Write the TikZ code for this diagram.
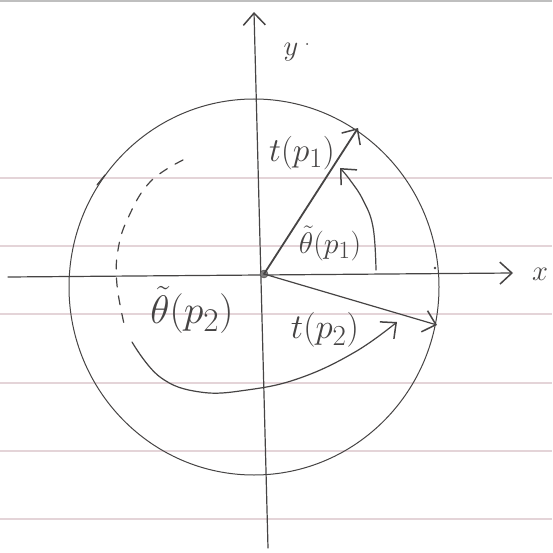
\documentclass[tikz,border=0pt]{standalone}
\usetikzlibrary{arrows.meta}
\definecolor{pencil}{RGB}{70,68,68}
\definecolor{ruling}{RGB}{228,212,216}
\newcommand\handtext[2]{\scalebox{#1}{#2}}
\tikzset{
  pen/.style={draw=pencil, line width=1.2pt, line cap=round, line join=round},
  thickpen/.style={draw=pencil, line width=1.8pt, line cap=round, line join=round},
  barb/.style={-{Straight Barb[length=12pt,width=22pt,line width=1.5pt]}},
  rule/.style={draw=ruling, line width=1.1pt},
  lbl/.style={text=pencil, inner sep=0pt, font=\Huge},
  ax/.style={text=pencil, inner sep=0pt, font=\Huge}
}
\begin{document}
\begin{tikzpicture}[x=1pt,y=-1pt]
\useasboundingbox (0,0) rectangle (552,553);
\fill[white] (0,0) rectangle (552,553);
% ruled paper
\foreach \yy in {178,246,314,383,451,519} \draw[rule] (0,\yy) -- (552,\yy);
\draw[draw=gray!50, line width=1.5pt] (0,1) -- (552,1);
% key points
\coordinate (xl) at (8,277);
\coordinate (xr) at (513,273);
\coordinate (yb) at (268,548);
\coordinate (yt) at (254,12);
\coordinate (t1) at (358,128);
\coordinate (t2) at (437,325);
\coordinate (C) at (254,287);
% axes
\draw[pen, barb] (xl) -- (xr);
\draw[pen, barb] (yb) -- (yt);
\node[ax] (xlab) at (540,274) {\handtext{1.15}{$x$}};
\node[ax] (ylab) at (291,52) {\handtext{1.15}{$y$}};
\fill[pencil] (307,44) circle (1pt);
% circle
\draw[pen, line width=1pt] (C) ellipse [x radius=185, y radius=188];
\draw[pen] (105,175) -- (97,185);
% origin
\node[circle, fill=pencil!70, draw=pencil, minimum size=8pt, inner sep=0pt] (O) at (264,274) {};
% vectors
\draw[thickpen, barb] (O.center) -- (t1);
\draw[pen, barb] (O.center) -- (t2);
% angle arcs
\coordinate (a1s) at (376,270);
\coordinate (a1e) at (340,168);
\draw[pen, barb] plot[smooth, tension=0.7] coordinates {(a1s) (373,227) (363,200) (350,180) (a1e)};
\coordinate (a2s) at (183,160);
\coordinate (a2m) at (125,328);
\coordinate (a2e) at (397,322);
\draw[pen, dashed, dash pattern=on 9pt off 9pt] plot[smooth, tension=0.7] coordinates {(a2s) (150,182) (128,218) (118,250) (117,285) (a2m)};
\draw[pen, barb] plot[smooth, tension=0.7] coordinates {(132,342) (160,377) (200,392) (247,390) (300,378) (355,352) (a2e)};
% labels
\node[lbl] (lt1) at (302,153) {\handtext{1.35}{$t(p_1)$}};
\node[lbl] (lth1) at (330,243) {\handtext{1.2}{$\tilde{\theta}(p_1)$}};
\node[lbl] (lth2) at (192,310) {\handtext{1.6}{$\tilde{\theta}(p_2)$}};
\node[lbl] (lt2) at (325,330) {\handtext{1.4}{$t(p_2)$}};
\fill[pencil] (435,268) circle (1.3pt);
\end{tikzpicture}
\end{document}
